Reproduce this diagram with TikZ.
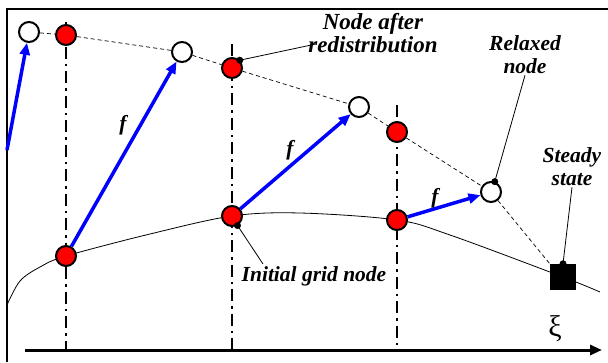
\documentclass[tikz,border=0pt]{standalone}
\usepackage{fontspec}
\setmainfont{Liberation Serif}[BoldItalicFont={Liberation Serif Bold Italic}]
\usetikzlibrary{arrows.meta}

\begin{document}
\begin{tikzpicture}[x=1pt,y=-1pt,
  gridpt/.style={circle,draw,line width=2pt,minimum size=20pt,inner sep=0pt,fill=red},
  relaxpt/.style={circle,draw,line width=2pt,minimum size=20pt,inner sep=0pt,fill=white},
  force/.style={-{Triangle[length=12pt,width=10pt]},blue,line width=3.5pt},
  gridline/.style={line width=2.5pt,dash pattern=on 12pt off 5pt on 2.5pt off 5pt},
  leader/.style={line width=0.8pt},
  lbl/.style={font=\fontsize{21.5}{23}\selectfont\bfseries\itshape,align=center,inner sep=1pt}]
     \def\xa{66} \def\xb{232} \def\xc{397}
     \useasboundingbox (0,0) rectangle (608,362);
     % frame and axis
     \draw[line width=1.2pt] (7,362) -- (7,9) -- (608,9);
     \coordinate (ax0) at (25,350);
     \coordinate (ax1) at (602,350);
     \draw[line width=3pt,-{Triangle[length=12pt,width=10pt]}] (ax0) -- (ax1);
     \node[font=\fontsize{30}{30}\selectfont] (xi) at (555,329) {ξ};
     % grid lines
     \draw[gridline] (\xa,22) -- (\xa,350);
     \draw[gridline] (\xb,44) -- (\xb,350);
     \draw[gridline] (\xc,105) -- (\xc,350);
     % initial grid curve
     \draw[line width=0.8pt] plot[smooth,tension=0.55] coordinates
       {(7,305) (20,281) (40,267) (66,256) (150,234) (232,216) (300,213)
        (397,220) (450,235) (563,277) (600,292)};
     % nodes
     \node[gridpt] (g1) at (\xa,256) {};
     \node[gridpt] (g2) at (\xb,216) {};
     \node[gridpt] (g3) at (\xc,220) {};
     \node[gridpt] (r1) at (\xa,35) {};
     \node[gridpt] (r2) at (\xb,68) {};
     \node[gridpt] (r3) at (\xc,132) {};
     \node[relaxpt] (w0) at (29,32) {};
     \node[relaxpt] (w1) at (182,52) {};
     \node[relaxpt] (w2) at (359,107) {};
     \node[relaxpt] (w3) at (491,192) {};
     \node[fill,minimum size=26pt,inner sep=0pt] (ss) at (563,277) {};
     % redistributed line
     \draw[dashed,line width=0.7pt,dash pattern=on 4pt off 3pt]
       (w0) -- (r1) -- (w1) -- (r2) -- (w2) -- (r3) -- (w3) -- (ss.north west);
     % forces
     \coordinate (a0) at (7,150);
     \draw[force] (a0) -- (w0);
     \draw[force] (g1) -- (w1);
     \draw[force] (g2) -- (w2);
     \draw[force] (g3) -- (w3);
     \node[lbl] (f1) at (123,125) {f};
     \node[lbl] (f2) at (290,150) {f};
     \node[lbl] (f3) at (435,198) {f};
     % labels
     \node[lbl,font=\fontsize{23}{23}\selectfont\bfseries\itshape] (nar) at (373,33) {Node after\\redistribution};
     \node[lbl] (rln) at (525,55) {Relaxed\\node};
     \node[lbl] (sst) at (572,167) {Steady\\state};
     \node[lbl] (ign) at (314,276) {Initial grid node};
     \coordinate (narend) at (316,44);
     \coordinate (ignend) at (263,264);
     \draw[leader] (narend) -- (r2.north east);
     \fill (r2.north east) circle(3.5);
     \draw[leader] (rln.south) -- (w3.70);
     \fill (w3.70) circle(3.5);
     \draw[leader] (sst.south) -- (ss.north);
     \fill (ss.north) circle(3.5);
     \draw[leader] (ignend) -- (g2.-60);
     \fill (g2.-60) circle(3.5);
    \end{tikzpicture}
\end{document}
